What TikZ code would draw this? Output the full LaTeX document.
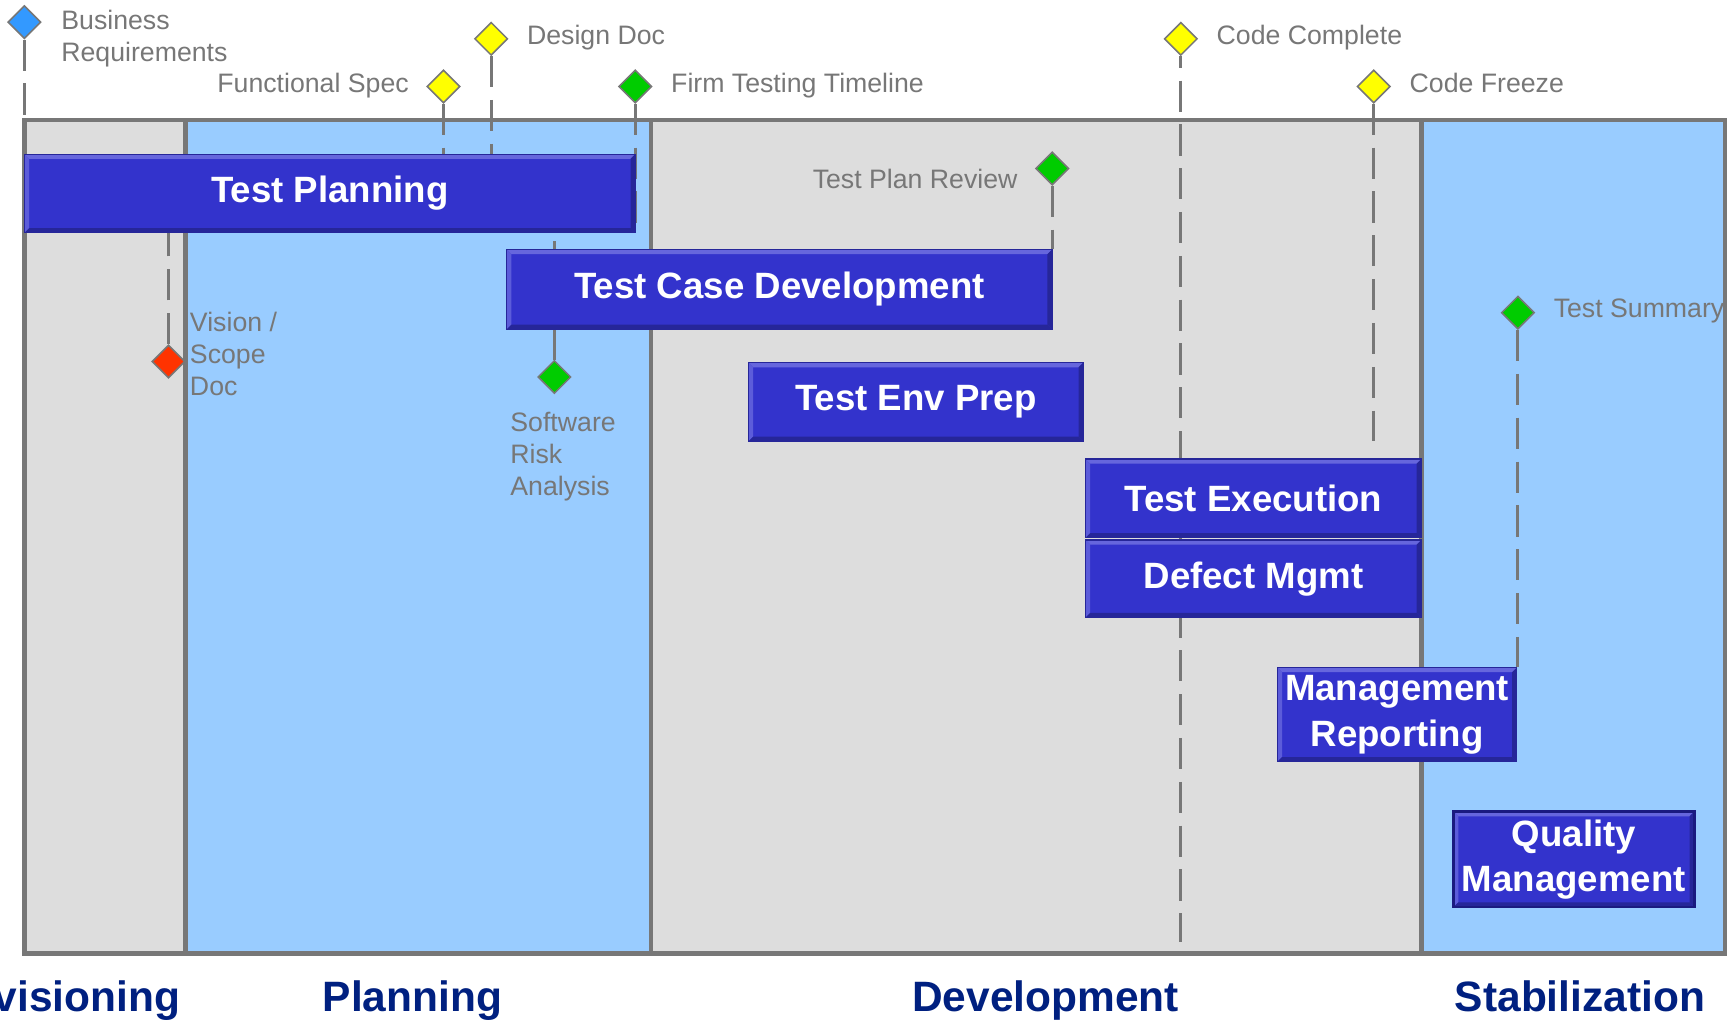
\documentclass[tikz,border=0pt]{standalone}
\usepackage{fontspec}
\setmainfont{Liberation Sans}
\usetikzlibrary{shapes.geometric,calc}

\definecolor{frameg}{HTML}{777777}
\definecolor{phasegray}{HTML}{DDDDDD}
\definecolor{phaseblue}{HTML}{99CCFF}
\definecolor{phasetext}{HTML}{002080}
\definecolor{taskblue}{HTML}{3333CC}
\definecolor{taskhi}{HTML}{6666DD}
\definecolor{tasklo}{HTML}{262699}
\definecolor{tasknavy}{HTML}{1A1A80}
\definecolor{msblue}{HTML}{3399FF}
\definecolor{msyellow}{HTML}{FFFF00}
\definecolor{msgreen}{HTML}{00CC00}
\definecolor{msred}{HTML}{FF3300}

\pgfdeclarelayer{bg}
\pgfdeclarelayer{lines}
\pgfsetlayers{bg,lines,main}

\tikzset{
  frameline/.style={draw=frameg, line width=2.4pt},
  mline/.style={draw=frameg, line width=1.6pt, dash pattern=on 16pt off 6.5pt},
  milestone/.style={diamond, draw=frameg, line width=0.8pt, inner sep=0pt,
    minimum width=17pt, minimum height=17pt},
  mslabel/.style={text=frameg, inner sep=0pt, align=left,
    font=\fontsize{13.7}{16.5}\selectfont},
  phase/.style={text=phasetext, inner sep=0pt, font=\fontsize{21.8}{26}\selectfont\bfseries},
  bevel/.style={path picture={
    \fill[taskhi] (path picture bounding box.north west) -- (path picture bounding box.north east)
      -- ([shift={(-2.4pt,-2.4pt)}]path picture bounding box.north east)
      -- ([shift={(2.4pt,-2.4pt)}]path picture bounding box.north west) -- cycle;
    \fill[taskhi!80!taskblue] (path picture bounding box.north west) -- (path picture bounding box.south west)
      -- ([shift={(2.4pt,2.4pt)}]path picture bounding box.south west)
      -- ([shift={(2.4pt,-2.4pt)}]path picture bounding box.north west) -- cycle;
    \fill[tasklo] (path picture bounding box.south west) -- (path picture bounding box.south east)
      -- ([shift={(-2.4pt,2.4pt)}]path picture bounding box.south east)
      -- ([shift={(2.4pt,2.4pt)}]path picture bounding box.south west) -- cycle;
    \fill[tasklo] (path picture bounding box.north east) -- (path picture bounding box.south east)
      -- ([shift={(-2.4pt,2.4pt)}]path picture bounding box.south east)
      -- ([shift={(-2.4pt,-2.4pt)}]path picture bounding box.north east) -- cycle;
  }},
  task/.style={draw=tasklo, line width=0.6pt, fill=taskblue, text=white, inner sep=0pt,
    align=center, font=\fontsize{18.8}{23.3}\selectfont\bfseries, bevel},
}

\begin{document}
\begin{tikzpicture}[x=0.02cm, y=-0.02cm]
  \useasboundingbox (0,0) rectangle (1563,921);

  % phase columns
  \begin{pgfonlayer}{bg}
    \foreach \xa/\xb/\c in {22/167/phasegray, 167/587/phaseblue, 587/1282/phasegray, 1282/1556/phaseblue}
      \fill[\c] (\xa,108) rectangle (\xb,860);
  \end{pgfonlayer}
  \node[frameline, inner sep=0pt, minimum width=30.68cm, minimum height=15.04cm] (frame) at (789,484) {};
  \foreach \x in {167,587,1282}
    \draw[frameline] (\x,108) -- (\x,860);

  \node[phase, anchor=base east] (envis) at (163,912) {Envisioning};
  \node[phase, anchor=base] (planph) at (372,912) {Planning};
  \node[phase, anchor=base] (devph) at (943,912) {Development};
  \node[phase, anchor=base] (stabph) at (1425,912) {Stabilization};

  % tasks
  \node[task, minimum width=11.02cm, minimum height=1.42cm] (plan) at (297.5,174.5) {Test Planning};
  \node[task, minimum width=9.84cm, minimum height=1.44cm] (tcdev) at (703,261) {Test Case Development};
  \node[task, minimum width=6.04cm, minimum height=1.42cm] (envprep) at (826,362.5) {Test Env Prep};
  \node[task, minimum width=6.06cm, minimum height=1.42cm] (texec) at (1130.5,449.5) {Test Execution};
  \node[task, minimum width=6.06cm, minimum height=1.40cm] (defect) at (1130.5,522) {Defect Mgmt};
  \node[task, minimum width=4.32cm, minimum height=1.70cm] (mgmtrep) at (1260,644.5) {Management\\Reporting};
  \node[task, draw=tasknavy, line width=1.4pt, minimum width=4.34cm, minimum height=1.72cm] (qualmgmt)
    at (1419.5,775) {Quality\\Management};

  % milestones
  \foreach \m/\x/\y/\c in {busreq/22/20/msblue, funcspec/400/78/msyellow, designdoc/443/35/msyellow,
      firmtime/573/78/msgreen, codecomp/1065/35/msyellow, codefrz/1239/78/msyellow,
      planrev/949/152/msgreen, visdoc/152/326/msred, riskan/500/340/msgreen, testsum/1369/282/msgreen}
    \node[milestone, fill=\c] (\m) at (\x,\y) {};

  \coordinate (ccend) at (1065,850);
  \begin{pgfonlayer}{lines}
    \draw[mline] (busreq.south) -- (busreq |- frame.north);
    \draw[mline] (funcspec.south) -- (funcspec |- plan.north);
    \draw[mline] (designdoc.south) -- (designdoc |- plan.north);
    \draw[mline] (firmtime.south) -- (firmtime |- plan.south);
    \draw[mline, dash phase=10pt] (codecomp.south) -- (ccend);
    \draw[mline] (codefrz.south) -- ($(codefrz |- texec.north)+(0,-16)$);
    \draw[mline] (planrev.south) -- (planrev |- tcdev.north);
    \draw[mline] (visdoc.north) -- (visdoc |- plan.south);
    \draw[mline] (riskan.north) -- (riskan |- plan.south);
    \draw[mline] (testsum.south) -- (testsum |- mgmtrep.north);
  \end{pgfonlayer}

  \node[mslabel, anchor=north west] (busreqlbl) at (55,9) {Business\\Requirements};
  \node[mslabel, anchor=base east] (funcspeclbl) at (369,83) {Functional Spec};
  \node[mslabel, anchor=base west] (designdoclbl) at (475,40) {Design Doc};
  \node[mslabel, anchor=base west] (firmtimelbl) at (605,83) {Firm Testing Timeline};
  \node[mslabel, anchor=base west] (codecomplbl) at (1097,40) {Code Complete};
  \node[mslabel, anchor=base west] (codefrzlbl) at (1271,83) {Code Freeze};
  \node[mslabel, anchor=base east] (planrevlbl) at (918,170) {Test Plan Review};
  \node[mslabel, anchor=base west] (testsumlbl) at (1401,286) {Test Summary};
  \node[mslabel, anchor=north west] (visdoclbl) at (171,281) {Vision /\\Scope\\Doc};
  \node[mslabel, anchor=north west] (riskanlbl) at (460,371) {Software\\Risk\\Analysis};

\end{tikzpicture}
\end{document}
